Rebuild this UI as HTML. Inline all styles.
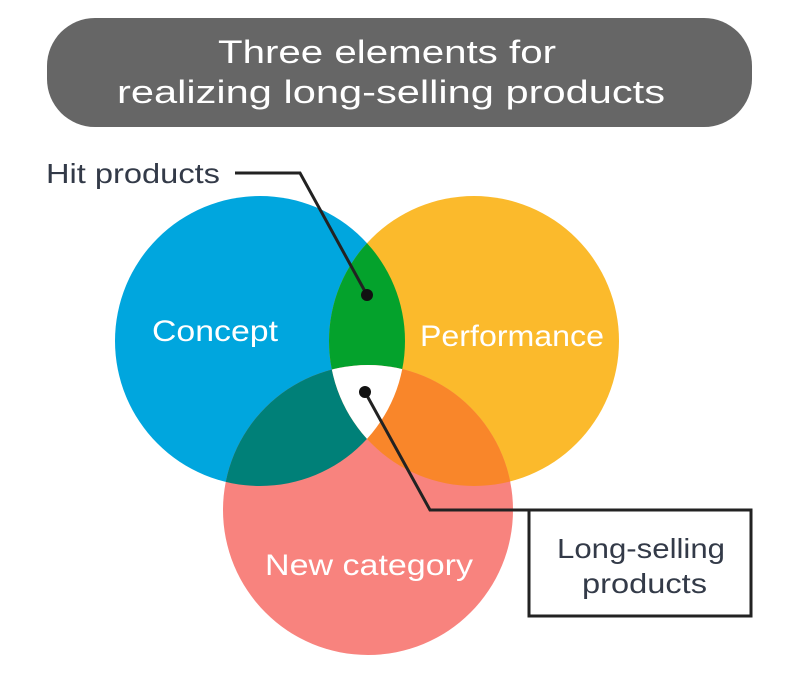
<!DOCTYPE html>
<html><head><style>
body{margin:0;width:800px;height:670px;background:#fff;overflow:hidden;font-family:"Liberation Sans",sans-serif;}
</style></head><body>
<svg width="800" height="670" xmlns="http://www.w3.org/2000/svg">
<defs>
<clipPath id="cC"><circle cx="260" cy="341" r="145"/></clipPath>
<clipPath id="cP"><circle cx="474" cy="341" r="145"/></clipPath>
<clipPath id="cN"><circle cx="368" cy="510" r="145"/></clipPath>
</defs>
<rect x="47" y="18" width="705" height="109" rx="48" fill="#666666"/>
<text x="218" y="63" fill="#fff" font-size="32" textLength="338" lengthAdjust="spacingAndGlyphs">Three elements for</text>
<text x="117" y="103" fill="#fff" font-size="32" textLength="548" lengthAdjust="spacingAndGlyphs">realizing long-selling products</text>
<circle cx="260" cy="341" r="145" fill="#00a6de"/>
<circle cx="474" cy="341" r="145" fill="#fbba2c"/>
<circle cx="368" cy="510" r="145" fill="#f8837e"/>
<g clip-path="url(#cC)"><circle cx="474" cy="341" r="145" fill="#04a22c"/><circle cx="368" cy="510" r="145" fill="#008078"/></g>
<g clip-path="url(#cP)"><circle cx="368" cy="510" r="145" fill="#f9862a"/></g>
<g clip-path="url(#cC)"><g clip-path="url(#cP)"><circle cx="368" cy="510" r="145" fill="#fff"/></g></g>
<text x="152" y="341" fill="#fff" font-size="30" textLength="126" lengthAdjust="spacingAndGlyphs">Concept</text>
<text x="420" y="346" fill="#fff" font-size="30" textLength="184" lengthAdjust="spacingAndGlyphs">Performance</text>
<text x="265" y="575" fill="#fff" font-size="30" textLength="208" lengthAdjust="spacingAndGlyphs">New category</text>
<polyline points="235,173 300,173 367,295" fill="none" stroke="#222" stroke-width="3"/>
<circle cx="367" cy="295" r="6" fill="#111"/>
<polyline points="365,392 430,510 528,510" fill="none" stroke="#222" stroke-width="3"/>
<circle cx="365" cy="392" r="6" fill="#111"/>
<text x="46" y="183" fill="#333a48" font-size="28" textLength="174" lengthAdjust="spacingAndGlyphs">Hit products</text>
<rect x="529" y="510" width="222" height="106" fill="#fff" stroke="#222" stroke-width="3"/>
<text x="557" y="558" fill="#333a48" font-size="28" textLength="168" lengthAdjust="spacingAndGlyphs">Long-selling</text>
<text x="582" y="593" fill="#333a48" font-size="28" textLength="125" lengthAdjust="spacingAndGlyphs">products</text>
</svg>
</body></html>
